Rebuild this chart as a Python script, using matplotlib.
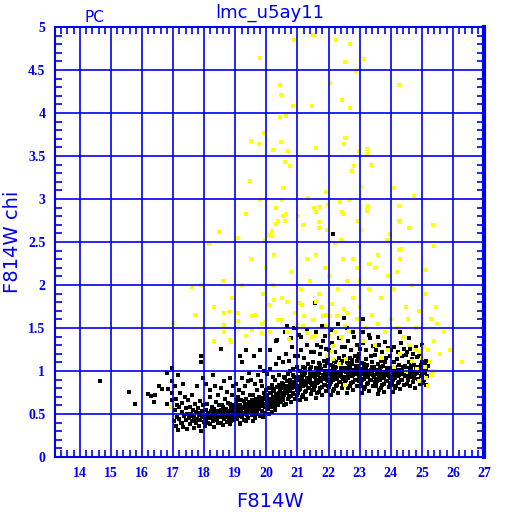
import numpy as np
import matplotlib
matplotlib.use("Agg")
import matplotlib.pyplot as plt
from matplotlib.ticker import MultipleLocator

# --- data (F814W magnitude, chi) ---
black_pts = [
    (14.64,0.88),(15.57,0.76),(15.76,0.62),(16.18,0.73),(16.30,0.71),(16.42,0.72),(16.37,0.64),
    (16.56,0.83),(16.63,0.79),(16.80,0.62),(16.95,0.74),(16.95,0.88),(16.85,0.79),(16.80,0.98),
    (16.95,1.04),(16.97,0.66),
    (17.02,0.42),(17.05,0.55),(17.08,0.36),(17.10,0.68),(17.12,0.47),(17.15,0.31),(17.18,0.58),
    (17.20,0.44),(17.22,0.75),(17.25,0.39),(17.27,0.52),(17.30,0.63),(17.32,0.35),(17.35,0.48),
    (17.37,0.70),(17.40,0.43),(17.42,0.57),(17.44,0.33),(17.46,0.50),(17.48,0.66),(17.05,0.82),
    (17.15,0.95),(17.33,0.85),(17.28,0.40),(17.12,0.60),
    (17.51,0.45),(17.53,0.58),(17.55,0.38),(17.58,0.50),(17.60,0.72),(17.62,0.42),(17.64,0.55),
    (17.66,0.34),(17.68,0.47),(17.70,0.62),(17.72,0.40),(17.74,0.52),(17.76,0.82),(17.78,0.44),
    (17.80,0.57),(17.82,0.36),(17.84,0.49),(17.86,0.65),(17.88,0.43),(17.90,0.30),(17.92,0.53),
    (17.94,0.46),(17.96,0.60),(17.98,0.41),(17.57,0.48),(17.69,0.44),(17.87,0.51),(17.95,0.92),
    (18.01,0.48),(18.03,0.36),(18.05,0.55),(18.07,0.44),(18.09,0.62),(18.11,0.40),(18.13,0.51),
    (18.15,0.47),(18.17,0.70),(18.19,0.38),(18.21,0.53),(18.23,0.45),(18.25,0.58),(18.27,0.42),
    (18.29,0.49),(18.31,0.35),(18.33,0.56),(18.35,0.46),(18.37,0.64),(18.39,0.43),(18.41,0.50),
    (18.43,0.39),(18.45,0.54),(18.47,0.47),(18.49,0.60),(18.06,0.85),(18.18,0.78),(18.28,0.95),
    (18.36,0.82),(18.44,0.72),(18.12,0.45),(18.22,0.48),(18.32,0.52),(18.42,0.44),(18.48,0.52),
    (18.51,0.46),(18.53,0.55),(18.55,0.40),(18.57,0.61),(18.59,0.49),(18.61,0.37),(18.63,0.52),
    (18.65,0.44),(18.67,0.68),(18.69,0.47),(18.71,0.56),(18.73,0.41),(18.75,0.50),(18.77,0.63),
    (18.79,0.45),(18.81,0.54),(18.83,0.38),(18.85,0.58),(18.87,0.48),(18.89,0.72),(18.91,0.43),
    (18.93,0.52),(18.95,0.60),(18.97,0.46),(18.99,0.55),(18.54,0.80),(18.64,0.88),(18.74,0.76),
    (18.84,0.92),(18.94,0.82),(18.58,0.50),(18.68,0.53),(18.78,0.51),(18.88,0.55),(18.98,0.49),
    (18.62,0.58),(18.72,0.47),(18.82,0.62),(18.92,0.58),(18.86,0.42),
    (19.01,0.50),(19.03,0.62),(19.05,0.44),(19.07,0.56),(19.09,0.70),(19.11,0.48),(19.13,0.59),
    (19.15,0.40),(19.17,0.53),(19.19,0.66),(19.21,0.47),(19.23,0.57),(19.25,0.75),(19.27,0.51),
    (19.29,0.43),(19.31,0.61),(19.33,0.54),(19.35,0.68),(19.37,0.49),(19.39,0.58),(19.41,0.45),
    (19.43,0.63),(19.45,0.55),(19.47,0.72),(19.49,0.52),(19.02,0.85),(19.12,0.78),(19.22,0.92),
    (19.32,0.82),(19.42,0.88),(19.06,0.57),(19.16,0.60),(19.26,0.58),(19.36,0.62),(19.46,0.60),
    (19.08,0.52),(19.18,0.55),(19.28,0.65),(19.38,0.53),(19.48,0.64),(19.14,0.38),(19.34,0.42),
    (19.44,0.98),(19.24,0.50),(19.04,0.66),
    (19.51,0.58),(19.53,0.66),(19.55,0.49),(19.57,0.72),(19.59,0.55),(19.61,0.62),(19.63,0.45),
    (19.65,0.68),(19.67,0.57),(19.69,0.78),(19.71,0.52),(19.73,0.64),(19.75,0.60),(19.77,0.70),
    (19.79,0.48),(19.81,0.66),(19.83,0.59),(19.85,0.82),(19.87,0.54),(19.89,0.69),(19.91,0.62),
    (19.93,0.74),(19.95,0.51),(19.97,0.67),(19.99,0.61),(19.52,0.90),(19.62,0.85),(19.72,0.95),
    (19.82,0.88),(19.92,1.00),(19.56,0.60),(19.66,0.63),(19.76,0.56),(19.86,0.65),(19.96,0.72),
    (19.54,0.53),(19.64,0.58),(19.74,0.67),(19.84,0.62),(19.94,0.58),(19.58,0.42),(19.68,0.50),
    (19.78,0.63),(19.88,0.47),(19.98,0.78),(19.60,1.18),(19.80,1.05),(19.70,0.61),
    (20.01,0.63),(20.03,0.72),(20.05,0.56),(20.07,0.80),(20.09,0.66),(20.11,0.59),(20.13,0.75),
    (20.15,0.68),(20.17,0.52),(20.19,0.84),(20.21,0.70),(20.23,0.63),(20.25,0.77),(20.27,0.58),
    (20.29,0.90),(20.31,0.72),(20.33,0.66),(20.35,0.81),(20.37,0.61),(20.39,0.74),(20.41,0.95),
    (20.43,0.69),(20.45,0.78),(20.47,0.64),(20.49,0.86),(20.02,0.96),(20.12,1.02),(20.22,0.93),
    (20.32,1.08),(20.42,1.15),(20.06,0.68),(20.16,0.74),(20.26,0.70),(20.36,0.73),(20.46,0.80),
    (20.04,0.60),(20.14,0.63),(20.24,0.66),(20.34,0.62),(20.44,0.72),(20.08,0.50),(20.18,0.58),
    (20.28,0.55),(20.38,0.68),(20.48,0.75),(20.10,1.25),(20.30,1.35),(20.20,0.79),(20.40,0.84),
    (20.50,0.70),
    (20.51,0.75),(20.53,0.66),(20.55,0.85),(20.57,0.72),(20.59,0.92),(20.61,0.79),(20.63,0.62),
    (20.65,0.88),(20.67,0.74),(20.69,0.97),(20.71,0.81),(20.73,0.70),(20.75,0.90),(20.77,0.77),
    (20.79,0.64),(20.81,0.86),(20.83,0.80),(20.85,1.02),(20.87,0.73),(20.89,0.93),(20.91,0.84),
    (20.93,0.68),(20.95,0.89),(20.97,0.78),(20.99,1.05),(20.52,1.10),(20.62,1.20),(20.72,1.12),
    (20.82,1.28),(20.92,1.18),(20.56,0.80),(20.66,0.83),(20.76,0.85),(20.86,0.82),(20.96,0.92),
    (20.54,0.70),(20.64,0.76),(20.74,0.78),(20.84,0.74),(20.94,0.81),(20.58,0.60),(20.68,0.67),
    (20.78,0.71),(20.88,0.87),(20.98,0.72),(20.60,1.45),(20.80,1.38),(20.90,1.50),(20.70,0.88),
    (20.56,0.93),(20.86,0.95),(20.76,1.00),
    (21.01,0.82),(21.03,0.74),(21.05,0.93),(21.07,0.79),(21.09,1.00),(21.11,0.86),(21.13,0.70),
    (21.15,0.95),(21.17,0.83),(21.19,1.05),(21.21,0.88),(21.23,0.76),(21.25,0.98),(21.27,0.85),
    (21.29,0.68),(21.31,0.92),(21.33,0.87),(21.35,1.08),(21.37,0.80),(21.39,0.97),(21.41,0.90),
    (21.43,0.73),(21.45,0.94),(21.47,0.84),(21.49,1.10),(21.02,1.18),(21.12,1.25),(21.22,1.15),
    (21.32,1.30),(21.42,1.22),(21.06,0.89),(21.16,0.91),(21.26,0.86),(21.36,0.88),(21.46,0.96),
    (21.04,0.78),(21.14,0.82),(21.24,0.84),(21.34,0.80),(21.44,0.86),(21.08,0.66),(21.18,0.72),
    (21.28,0.77),(21.38,0.92),(21.48,0.78),(21.10,1.40),(21.30,1.48),(21.20,0.95),(21.40,1.02),
    (21.14,0.99),(21.24,1.03),(21.44,1.05),
    (21.51,0.86),(21.53,0.78),(21.55,0.97),(21.57,0.83),(21.59,1.04),(21.61,0.90),(21.63,0.74),
    (21.65,0.99),(21.67,0.87),(21.69,1.09),(21.71,0.92),(21.73,0.80),(21.75,1.02),(21.77,0.88),
    (21.79,0.72),(21.81,0.95),(21.83,0.91),(21.85,1.12),(21.87,0.84),(21.89,1.00),(21.91,0.93),
    (21.93,0.77),(21.95,0.97),(21.97,0.88),(21.99,1.14),(21.52,1.22),(21.62,1.30),(21.72,1.20),
    (21.82,1.35),(21.92,1.26),(21.56,0.93),(21.66,0.95),(21.76,0.90),(21.86,0.92),(21.96,1.00),
    (21.54,0.82),(21.64,0.86),(21.74,0.88),(21.84,0.84),(21.94,0.90),(21.58,0.69),(21.68,0.76),
    (21.78,0.81),(21.88,0.96),(21.98,0.82),(21.60,1.45),(21.80,1.52),(21.70,0.98),(21.90,1.06),
    (21.64,1.03),(21.74,1.07),(21.94,1.09),
    (22.01,0.90),(22.03,0.81),(22.05,1.00),(22.07,0.87),(22.09,1.07),(22.11,0.94),(22.13,0.77),
    (22.15,1.02),(22.17,0.91),(22.19,1.12),(22.21,0.95),(22.23,0.83),(22.25,1.05),(22.27,0.92),
    (22.29,0.75),(22.31,0.98),(22.33,0.94),(22.35,1.15),(22.37,0.87),(22.39,1.03),(22.41,0.96),
    (22.43,0.80),(22.45,1.00),(22.47,0.91),(22.49,1.17),(22.02,1.25),(22.12,1.33),(22.22,1.22),
    (22.32,1.38),(22.42,1.28),(22.06,0.96),(22.16,0.98),(22.26,0.93),(22.36,0.95),(22.46,1.03),
    (22.04,0.85),(22.14,0.89),(22.24,0.91),(22.34,0.87),(22.44,0.93),(22.08,0.72),(22.18,0.79),
    (22.28,0.84),(22.38,0.99),(22.48,0.85),(22.10,1.48),(22.30,1.55),(22.20,1.01),(22.40,1.09),
    (22.14,1.06),(22.24,1.10),(22.44,1.12),
    (22.51,0.93),(22.53,0.84),(22.55,1.03),(22.57,0.90),(22.59,1.10),(22.61,0.97),(22.63,0.80),
    (22.65,1.05),(22.67,0.94),(22.69,1.15),(22.71,0.98),(22.73,0.86),(22.75,1.08),(22.77,0.95),
    (22.79,0.78),(22.81,1.01),(22.83,0.97),(22.85,1.18),(22.87,0.90),(22.89,1.06),(22.91,0.99),
    (22.93,0.83),(22.95,1.03),(22.97,0.94),(22.99,1.20),(22.52,1.28),(22.62,1.35),(22.72,1.25),
    (22.82,1.40),(22.92,1.30),(22.56,0.99),(22.66,1.01),(22.76,0.96),(22.86,0.98),(22.96,1.06),
    (22.54,0.88),(22.64,0.92),(22.74,0.94),(22.84,0.90),(22.94,0.96),(22.58,0.75),(22.68,0.82),
    (22.78,0.87),(22.88,1.02),(22.98,0.88),(22.60,1.50),(22.80,1.45),(22.70,1.04),(22.90,1.12),
    (22.64,1.09),(22.74,1.13),(22.94,1.15),
    (23.01,0.92),(23.03,0.83),(23.05,1.02),(23.07,0.89),(23.09,1.09),(23.11,0.96),(23.13,0.79),
    (23.15,1.04),(23.17,0.93),(23.19,1.14),(23.21,0.97),(23.23,0.85),(23.25,1.07),(23.27,0.94),
    (23.29,0.77),(23.31,1.00),(23.33,0.96),(23.35,1.17),(23.37,0.89),(23.39,1.05),(23.41,0.98),
    (23.43,0.82),(23.45,1.02),(23.47,0.93),(23.49,1.19),(23.02,1.26),(23.12,1.32),(23.22,1.24),
    (23.32,1.38),(23.42,1.29),(23.06,0.98),(23.16,1.00),(23.26,0.95),(23.36,0.97),(23.46,1.05),
    (23.04,0.87),(23.14,0.91),(23.24,0.93),(23.34,0.89),(23.44,0.95),(23.08,0.74),(23.18,0.81),
    (23.28,0.86),(23.38,1.01),(23.48,0.87),(23.10,1.45),(23.30,1.42),(23.20,1.03),(23.40,1.11),
    (23.14,1.08),
    (23.51,0.91),(23.53,0.82),(23.55,1.01),(23.57,0.88),(23.59,1.08),(23.61,0.95),(23.63,0.78),
    (23.65,1.03),(23.67,0.92),(23.69,1.12),(23.71,0.96),(23.73,0.84),(23.75,1.06),(23.77,0.93),
    (23.79,0.76),(23.81,0.99),(23.83,0.95),(23.85,1.15),(23.87,0.88),(23.89,1.04),(23.91,0.97),
    (23.93,0.81),(23.95,1.01),(23.97,0.92),(23.99,1.17),(23.52,1.24),(23.62,1.30),(23.72,1.22),
    (23.82,1.34),(23.92,1.27),(23.56,0.97),(23.66,0.99),(23.76,0.94),(23.86,0.96),(23.96,1.04),
    (23.54,0.86),(23.64,0.90),(23.74,0.92),(23.84,0.88),(23.94,0.94),(23.58,0.73),(23.68,0.80),
    (23.78,0.85),(23.88,1.00),(23.98,0.86),(23.60,1.40),(23.80,1.10),(23.70,1.05),
    (24.01,0.93),(24.03,0.84),(24.05,1.03),(24.07,0.90),(24.09,1.10),(24.11,0.97),(24.13,0.80),
    (24.15,1.05),(24.17,0.94),(24.19,1.14),(24.21,0.98),(24.23,0.86),(24.25,1.07),(24.27,0.95),
    (24.29,0.79),(24.31,1.01),(24.33,0.97),(24.35,1.17),(24.37,0.90),(24.39,1.05),(24.41,0.99),
    (24.43,0.84),(24.45,1.03),(24.47,0.94),(24.49,1.19),(24.02,1.24),(24.12,1.28),(24.22,1.22),
    (24.32,1.32),(24.42,1.26),(24.06,0.99),(24.16,1.01),(24.26,0.96),(24.36,0.98),(24.46,1.06),
    (24.04,0.88),(24.14,0.92),(24.24,0.94),(24.34,0.90),(24.44,0.96),(24.08,0.76),(24.18,0.82),
    (24.28,0.87),(24.38,1.02),
    (24.51,0.94),(24.53,0.85),(24.55,1.04),(24.57,0.91),(24.59,1.10),(24.61,0.98),(24.63,0.82),
    (24.65,1.06),(24.67,0.95),(24.69,1.14),(24.71,0.99),(24.73,0.87),(24.75,1.07),(24.77,0.96),
    (24.79,0.80),(24.81,1.02),(24.83,0.98),(24.85,1.16),(24.87,0.91),(24.89,1.05),(24.91,1.00),
    (24.93,0.85),(24.95,1.03),(24.97,0.94),(24.99,1.12),(24.52,1.22),(24.62,1.26),(24.72,1.20),
    (24.82,1.28),(24.92,1.18),(24.56,1.00),(24.66,1.02),(24.76,0.97),(24.86,0.99),(24.96,1.07),
    (24.54,0.89),(24.64,0.93),(24.74,0.92),
    (25.01,0.95),(25.03,0.86),(25.05,1.04),(25.07,0.92),(25.09,1.09),(25.11,0.98),(25.13,0.84),
    (25.15,1.02),(25.17,0.94),(25.19,1.06),(25.02,1.15),(25.08,0.89),(25.12,1.12),(25.06,0.99),
    # sparse black points above the main sequence
    (22.14,2.59),(20.65,1.52),(20.94,1.50),(21.56,1.79),(21.06,1.42),(21.90,1.41),(23.60,1.55),
    (24.30,1.45),(22.50,1.62),(23.10,1.60),(24.60,1.38),(25.00,1.30),(19.36,1.24),(18.53,1.26),
    (17.90,1.17),(17.90,1.10),(19.20,1.11),(19.80,1.24),(21.75,1.28),(20.33,1.36),(19.15,1.17),
]

yellow_pts = [
    (20.89,4.85),(21.50,4.91),(22.24,4.85),(22.69,4.80),(19.79,4.64),(22.53,4.59),(23.15,4.63),
    (22.89,4.49),(20.44,4.33),(22.05,4.35),(24.27,4.33),(20.47,4.21),(20.85,4.08),(21.47,4.08),
    (22.44,4.15),(22.69,4.06),(20.44,3.95),(20.63,3.97),(19.92,3.77),(22.53,3.71),(19.76,3.64),
    (20.47,3.66),(22.50,3.64),(21.60,3.59),(23.24,3.58),(20.21,3.57),(19.52,3.68),
    (19.46,3.21),(19.81,2.99),(20.30,2.90),(19.34,2.83),(20.37,2.75),(20.31,2.71),(18.46,2.62),
    (20.18,2.63),(20.07,2.58),(20.15,2.57),(19.08,2.55),(19.97,2.52),(18.15,2.48),
    (20.70,3.56),(22.98,3.56),(23.25,3.52),(20.59,3.43),(20.76,3.38),(22.82,3.38),(22.76,3.33),
    (23.36,3.40),(20.52,3.13),(21.92,3.08),(23.04,3.14),(24.11,3.13),(20.49,2.99),(21.34,3.01),
    (22.37,2.96),(22.65,2.99),(21.98,2.93),(21.53,2.89),(21.68,2.91),(23.27,2.92),(23.25,2.88),
    (23.23,2.86),(24.26,2.92),(20.52,2.80),(20.63,2.83),(21.02,2.80),(21.60,2.85),(22.44,2.85),
    (22.46,2.83),(20.59,2.75),(21.17,2.70),(21.68,2.73),(21.68,2.66),(22.95,2.75),(23.04,2.64),
    (21.94,2.64),(23.98,2.59),(23.88,2.52),(22.39,2.52),(22.20,2.49),(24.26,2.41),(24.27,2.74),
    (24.76,3.03),(24.31,2.73),(24.59,2.66),(25.36,2.70),(24.33,2.42),(25.40,2.45),
    (18.63,1.68),(18.79,1.69),(19.08,1.67),(18.63,1.53),(19.09,1.58),(19.53,1.64),(19.63,1.65),
    (19.85,1.55),(19.95,1.57),(20.09,1.77),(20.24,1.82),(20.37,1.59),(20.49,1.59),(20.67,1.80),
    (20.93,1.67),(21.04,1.79),(21.15,1.77),(21.21,1.64),(21.49,1.59),(21.59,1.80),(21.76,1.75),
    (21.89,1.65),(22.02,1.64),(22.11,1.78),(22.28,1.64),(22.51,1.72),(22.59,1.67),(17.00,1.56),
    (18.63,1.45),(18.82,1.36),(18.85,1.34),(19.36,1.41),(19.53,1.48),(19.85,1.44),(20.11,1.45),
    (20.67,1.45),(20.74,1.37),(20.97,1.53),(21.19,1.52),(21.30,1.44),(21.47,1.39),(21.57,1.41),
    (21.83,1.64),(21.92,1.52),(22.03,1.41),(22.14,1.29),(22.10,1.22),(22.22,1.45),(22.39,1.40),
    (22.52,1.52),(22.65,1.47),(21.96,1.17),(22.14,1.14),(22.32,1.08),(22.56,1.14),(22.53,0.84),
    (16.93,0.58),
    (22.80,2.30),(23.00,2.05),(23.30,1.95),(23.50,2.20),(23.70,1.85),(23.90,2.10),(24.10,1.95),
    (24.30,2.30),(24.50,1.75),(24.70,2.00),(24.90,1.70),(25.10,1.90),(25.30,1.60),(25.50,1.55),
    (25.70,1.45),(25.40,1.35),(25.20,1.25),(25.60,1.20),(25.90,1.25),(26.30,1.10),(25.00,1.15),
    (24.80,1.25),(24.60,1.30),(24.40,1.40),(24.20,1.50),(24.00,1.60),(23.80,1.45),(23.60,1.55),
    (23.40,1.65),(23.20,1.50),(23.00,1.75),(22.90,1.60),(22.80,1.85),(23.10,1.35),(23.50,1.30),
    (23.90,1.25),(24.30,1.20),(24.70,1.12),(25.10,1.05),(25.30,0.95),(24.90,0.88),(25.20,0.82),
    (24.95,1.22),(25.05,1.28),(24.85,1.02),(25.25,1.10),(25.35,1.00),(25.15,0.92),(22.90,2.20),
    (23.60,2.35),(24.20,2.15),(23.30,2.25),(22.60,2.05),(22.30,1.95),(22.00,2.10),(21.70,1.90),
    (21.40,2.05),(21.10,1.95),(20.80,2.15),(20.50,1.85),(20.20,2.00),(19.90,1.90),(19.50,2.30),
    (19.20,2.00),(18.90,1.85),(18.60,2.05),(18.30,1.75),(17.90,2.00),(17.60,1.98),(21.30,2.30),
    (21.90,2.20),(22.45,2.30),(20.00,2.20),(18.00,1.50),(17.70,1.65),(18.30,1.35),(20.25,2.35),
    (21.60,2.35),(24.55,1.60),(24.80,1.50),(25.45,1.75),(23.70,1.15),(24.10,1.05),(24.50,1.00),
    (25.10,2.17),
]

xticks = list(range(14, 28))
yticks = [0, 0.5, 1, 1.5, 2, 2.5, 3, 3.5, 4, 4.5, 5]
ytick_labels = ["0", "0.5", "1", "1.5", "2", "2.5", "3", "3.5", "4", "4.5", "5"]

blue = "#0000f0"

fig = plt.figure(figsize=(5.12, 5.12), dpi=100)
ax = fig.add_axes([55/512, 55/512, 429/512, 430/512])

bx, by = zip(*black_pts)
yx, yy = zip(*yellow_pts)
# points go under the grid, as in the original
ax.scatter(bx, by, s=6, marker="s", c="black", linewidths=0, zorder=1, antialiased=False)
ax.scatter(yx, yy, s=6, marker="s", c="#ffff00", linewidths=0, zorder=1.5, antialiased=False)

ax.set_xlim(13.2, 27)
ax.set_ylim(0, 5)
ax.set_xticks(xticks)
ax.set_yticks(yticks)
ax.set_yticklabels(ytick_labels)
ax.xaxis.set_minor_locator(MultipleLocator(0.2))
ax.yaxis.set_minor_locator(MultipleLocator(0.1))
ax.set_axisbelow(False)
ax.grid(True, which="major", color=blue, lw=1.2)

ax.tick_params(which="both", direction="in", top=True, right=True, colors=blue)
ax.tick_params(which="major", length=0, pad=7)
ax.tick_params(which="minor", length=5, width=1.2)
for lab in ax.get_xticklabels() + ax.get_yticklabels():
    lab.set_fontfamily("Liberation Serif")
    lab.set_fontweight("bold")
    lab.set_fontsize(10)
    lab.set_color(blue)

for sp in ax.spines.values():
    sp.set_color(blue)
    sp.set_linewidth(1.5)
ax.spines["right"].set_linewidth(3)

ax.set_xlabel("F814W", color=blue, fontsize=14, labelpad=9)
ax.set_ylabel("F814W chi", color=blue, fontsize=14, labelpad=4)
fig.text(0.527, 0.965, "lmc_u5ay11", color=blue, fontsize=13, ha="center")
fig.text(0.185, 0.958, "PC", color=blue, fontsize=11, ha="center")

fig.savefig("out.png", dpi=100)
